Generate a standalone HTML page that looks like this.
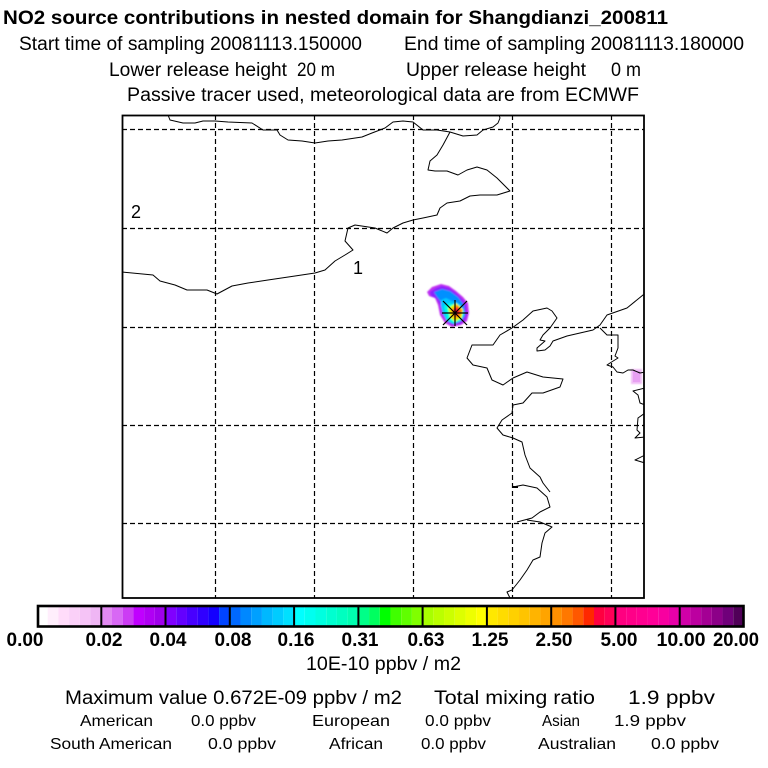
<!DOCTYPE html>
<html>
<head>
<meta charset="utf-8">
<style>
html,body{margin:0;padding:0;background:#fff;}
svg{display:block;}
text{font-family:"Liberation Sans",Arial,sans-serif;fill:#000;}
</style>
</head>
<body>
<svg width="768" height="768" viewBox="0 0 768 768" xmlns="http://www.w3.org/2000/svg">
<rect x="0" y="0" width="768" height="768" fill="#fff"/>

<!-- Header -->
<text x="3" y="24" font-size="19" font-weight="bold" textLength="665" lengthAdjust="spacingAndGlyphs">NO2 source contributions in nested domain for Shangdianzi_200811</text>
<text x="19" y="50" font-size="19" textLength="343" lengthAdjust="spacingAndGlyphs">Start time of sampling 20081113.150000</text>
<text x="404" y="50" font-size="19" textLength="340" lengthAdjust="spacingAndGlyphs">End time of sampling 20081113.180000</text>
<text x="109" y="76" font-size="19" textLength="178" lengthAdjust="spacingAndGlyphs">Lower release height</text>
<text x="297" y="76" font-size="19" textLength="38" lengthAdjust="spacingAndGlyphs">20 m</text>
<text x="406" y="76" font-size="19" textLength="180" lengthAdjust="spacingAndGlyphs">Upper release height</text>
<text x="611" y="76" font-size="19" textLength="30" lengthAdjust="spacingAndGlyphs">0 m</text>
<text x="127" y="101" font-size="19" textLength="512" lengthAdjust="spacingAndGlyphs">Passive tracer used, meteorological data are from ECMWF</text>

<defs>
<clipPath id="mapclip"><rect x="122" y="115" width="522" height="483"/></clipPath>
<filter id="soft" x="-20%" y="-20%" width="140%" height="140%"><feGaussianBlur stdDeviation="0.8"/></filter>
</defs>

<!-- Map -->
<g clip-path="url(#mapclip)">
  <!-- plume -->
  <g filter="url(#soft)">
    <path d="M427,292 L432,287 L441,284 L449,286 L456,291 L463,297 L468,303 L469,313 L467,321 L461,325 L452,327 L445,323 L440,315 L438,305 L435,298 L429,296 Z" fill="#c030f0"/>
    <path d="M430,292 L436,288 L442,286 L449,288 L456,293 L462,299 L466,305 L467,314 L465,320 L460,324 L452,325 L447,322 L442,314 L440,305 L437,299 L431,296 Z" fill="#8a20ff"/>
    <path d="M434,292 L442,289 L450,291 L458,297 L464,305 L465,316 L460,322 L452,324 L446,320 L443,312 L441,302 L437,297 Z" fill="#0090ff"/>
    <path d="M441,300 L446,298 L452,301 L460,304 L465,312 L462,320 L454,324 L447,321 L443,314 L441,306 Z" fill="#00c8ff"/>
    <path d="M444,306 L449,303 L455,305 L462,308 L464,314 L460,321 L453,323 L447,319 Z" fill="#00ffe0"/>
    <path d="M448,308 L456,303 L463,309 L462,318 L455,322 L450,318 Z" fill="#ccff00"/>
    <path d="M450,310 L456,304 L463,310 L461,317 L455,320 L451,316 Z" fill="#ffd000"/>
    <path d="M452,310 L457,305 L462,311 L459,317 L454,317 Z" fill="#ff8000"/>
    <path d="M453,310 L457,307 L460,312 L456,316 Z" fill="#ff1030"/>
  </g>
  <!-- pink blob -->
  <rect x="631" y="369" width="11" height="15" fill="#f0bcf6" filter="url(#soft)"/>
  <rect x="633" y="371" width="7" height="11" fill="#e8a0f2"/>

  <!-- gridlines -->
  <g stroke="#000" stroke-width="1.2" stroke-dasharray="5,3" fill="none">
    <line x1="215.5" y1="115" x2="215.5" y2="598"/>
    <line x1="314.5" y1="115" x2="314.5" y2="598"/>
    <line x1="413.5" y1="115" x2="413.5" y2="598"/>
    <line x1="512.5" y1="115" x2="512.5" y2="598"/>
    <line x1="611.5" y1="115" x2="611.5" y2="598"/>
    <line x1="122" y1="129.5" x2="644" y2="129.5"/>
    <line x1="122" y1="228.5" x2="644" y2="228.5"/>
    <line x1="122" y1="327.5" x2="644" y2="327.5"/>
    <line x1="122" y1="425.5" x2="644" y2="425.5"/>
    <line x1="122" y1="523.5" x2="644" y2="523.5"/>
  </g>

  <!-- coastlines -->
  <g stroke="#000" stroke-width="1" fill="none" stroke-linejoin="round">
    <polyline points="168,115 170,120 183,123 195,123 203,121 215,121 228,122 252,123 263,130 277,130 280,135 288,140 302,141 315,143 328,141 342,140 362,137 372,133 385,128 393,122 403,121 413,122 423,130 437,130 450,132 463,136 477,135 483,130 493,127 498,123 500,118 499,115"/>
    <polyline points="122,272 153,275 160,281 175,285 187,290 207,290 217,294 232,286 248,283 268,280 295,276 315,273 325,270 335,261 345,255 353,250 345,241 348,228 355,225 375,228 387,233 393,228 403,223 413,220 423,218 437,215 440,208 447,203 460,201 470,196 480,195 497,195 510,191 497,178 487,170 477,167 467,170 458,175 447,171 435,171 428,170 430,161 437,155 443,145 450,132"/>
    <polyline points="645,294 643,295 627,308 607,315 600,325 593,330 580,333 567,336 553,341 550,346 545,350 537,351 537,348 545,341 540,340 543,335 550,328 557,318 552,311 547,308 533,311 523,320 512,328 500,335 493,345 472,345 467,358 473,365 487,368 492,380 503,385 513,378 527,372 543,377 563,379 560,387 543,393 532,393 523,403 513,405 512,413 502,420 497,428 503,435 513,438 522,442 525,455 530,468 540,477 543,483 550,492"/>
    <polyline points="513,487 523,485 537,488 547,497 550,507 540,512 532,518 517,522"/>
    <polyline points="527,520 540,522 552,527 545,533 542,543 540,557 533,560 527,570 520,580 512,590 507,592 510,598"/>
    <polyline points="600,328 607,335 618,335 618,348 615,356 618,358 610,363 607,365 613,367 617,372 623,373 628,370 633,370 640,373 645,372"/>
    <polyline points="645,388 633,391 638,395 640,403 645,405"/>
    <polyline points="645,413 638,418 637,430 640,433 635,438 645,437"/>
    <polyline points="645,455 635,460 645,463"/>
  </g>
  <line x1="513" y1="487" x2="518" y2="487" stroke="#000" stroke-width="2"/>

  <!-- star marker -->
  <g stroke="#000" stroke-width="1.2">
    <line x1="443" y1="301" x2="467" y2="325"/>
    <line x1="467" y1="301" x2="443" y2="325"/>
    <line x1="455" y1="300" x2="455" y2="326"/>
    <line x1="442" y1="313" x2="468" y2="313"/>
  </g>
</g>

<!-- labels in map -->
<text x="131" y="218" font-size="18">2</text>
<text x="353" y="274" font-size="18">1</text>

<!-- frame -->
<rect x="122.5" y="115.5" width="521.5" height="482.5" fill="none" stroke="#000" stroke-width="1.8"/>

<!-- Colorbar -->
<g>
  <rect x="37" y="605" width="10.71" height="22" fill="#ffffff"/>
  <rect x="47.71" y="605" width="10.71" height="22" fill="#ffeefc"/>
  <rect x="58.42" y="605" width="10.71" height="22" fill="#ffdcfa"/>
  <rect x="69.13" y="605" width="10.71" height="22" fill="#fad0f8"/>
  <rect x="79.84" y="605" width="10.71" height="22" fill="#f5c3f6"/>
  <rect x="90.55" y="605" width="10.71" height="22" fill="#efb6f4"/>
  <rect x="101.27" y="605" width="10.71" height="22" fill="#e28af2"/>
  <rect x="111.98" y="605" width="10.71" height="22" fill="#d868f4"/>
  <rect x="122.69" y="605" width="10.71" height="22" fill="#cc3cf4"/>
  <rect x="133.4" y="605" width="10.71" height="22" fill="#c000ff"/>
  <rect x="144.11" y="605" width="10.71" height="22" fill="#b000f4"/>
  <rect x="154.82" y="605" width="10.71" height="22" fill="#a000ec"/>
  <rect x="165.54" y="605" width="10.71" height="22" fill="#8000ff"/>
  <rect x="176.25" y="605" width="10.71" height="22" fill="#6400ff"/>
  <rect x="186.96" y="605" width="10.71" height="22" fill="#4800ff"/>
  <rect x="197.67" y="605" width="10.71" height="22" fill="#3000ff"/>
  <rect x="208.38" y="605" width="10.71" height="22" fill="#1400ff"/>
  <rect x="219.09" y="605" width="10.71" height="22" fill="#0044ff"/>
  <rect x="229.81" y="605" width="10.71" height="22" fill="#0068ff"/>
  <rect x="240.52" y="605" width="10.71" height="22" fill="#0088ff"/>
  <rect x="251.23" y="605" width="10.71" height="22" fill="#00a0ff"/>
  <rect x="261.94" y="605" width="10.71" height="22" fill="#00b8ff"/>
  <rect x="272.65" y="605" width="10.71" height="22" fill="#00ccff"/>
  <rect x="283.36" y="605" width="10.71" height="22" fill="#00e0ff"/>
  <rect x="294.08" y="605" width="10.71" height="22" fill="#00ffff"/>
  <rect x="304.79" y="605" width="10.71" height="22" fill="#00fff0"/>
  <rect x="315.5" y="605" width="10.71" height="22" fill="#00ffe0"/>
  <rect x="326.21" y="605" width="10.71" height="22" fill="#00ffd0"/>
  <rect x="336.92" y="605" width="10.71" height="22" fill="#00ffc0"/>
  <rect x="347.63" y="605" width="10.71" height="22" fill="#00ffb0"/>
  <rect x="358.35" y="605" width="10.71" height="22" fill="#00ff88"/>
  <rect x="369.06" y="605" width="10.71" height="22" fill="#00ff60"/>
  <rect x="379.77" y="605" width="10.71" height="22" fill="#00ff00"/>
  <rect x="390.48" y="605" width="10.71" height="22" fill="#40ff00"/>
  <rect x="401.19" y="605" width="10.71" height="22" fill="#60ff00"/>
  <rect x="411.9" y="605" width="10.71" height="22" fill="#80ff00"/>
  <rect x="422.62" y="605" width="10.71" height="22" fill="#a8ff00"/>
  <rect x="433.33" y="605" width="10.71" height="22" fill="#bbff00"/>
  <rect x="444.04" y="605" width="10.71" height="22" fill="#ccff00"/>
  <rect x="454.75" y="605" width="10.71" height="22" fill="#ddff00"/>
  <rect x="465.46" y="605" width="10.71" height="22" fill="#eeff00"/>
  <rect x="476.17" y="605" width="10.71" height="22" fill="#ffff00"/>
  <rect x="486.89" y="605" width="10.71" height="22" fill="#ffe800"/>
  <rect x="497.6" y="605" width="10.71" height="22" fill="#ffdc00"/>
  <rect x="508.31" y="605" width="10.71" height="22" fill="#ffd000"/>
  <rect x="519.02" y="605" width="10.71" height="22" fill="#ffc400"/>
  <rect x="529.73" y="605" width="10.71" height="22" fill="#ffb400"/>
  <rect x="540.44" y="605" width="10.71" height="22" fill="#ffa400"/>
  <rect x="551.16" y="605" width="10.71" height="22" fill="#ff9000"/>
  <rect x="561.87" y="605" width="10.71" height="22" fill="#ff7800"/>
  <rect x="572.58" y="605" width="10.71" height="22" fill="#ff5800"/>
  <rect x="583.29" y="605" width="10.71" height="22" fill="#ff2800"/>
  <rect x="594" y="605" width="10.71" height="22" fill="#ff0040"/>
  <rect x="604.71" y="605" width="10.71" height="22" fill="#ff0058"/>
  <rect x="615.43" y="605" width="10.71" height="22" fill="#ff0080"/>
  <rect x="626.14" y="605" width="10.71" height="22" fill="#ff0088"/>
  <rect x="636.85" y="605" width="10.71" height="22" fill="#ff0090"/>
  <rect x="647.56" y="605" width="10.71" height="22" fill="#ff0098"/>
  <rect x="658.27" y="605" width="10.71" height="22" fill="#f800a0"/>
  <rect x="668.98" y="605" width="10.71" height="22" fill="#e800a8"/>
  <rect x="679.7" y="605" width="10.71" height="22" fill="#d000a8"/>
  <rect x="690.41" y="605" width="10.71" height="22" fill="#bc00a0"/>
  <rect x="701.12" y="605" width="10.71" height="22" fill="#a40094"/>
  <rect x="711.83" y="605" width="10.71" height="22" fill="#8c0088"/>
  <rect x="722.54" y="605" width="10.71" height="22" fill="#70007a"/>
  <rect x="733.25" y="605" width="10.75" height="22" fill="#500058"/>
  <g stroke="#000" stroke-width="2">
    <line x1="101.3" y1="605" x2="101.3" y2="627"/>
    <line x1="165.5" y1="605" x2="165.5" y2="627"/>
    <line x1="229.8" y1="605" x2="229.8" y2="627"/>
    <line x1="294.1" y1="605" x2="294.1" y2="627"/>
    <line x1="358.4" y1="605" x2="358.4" y2="627"/>
    <line x1="422.6" y1="605" x2="422.6" y2="627"/>
    <line x1="486.9" y1="605" x2="486.9" y2="627"/>
    <line x1="551.2" y1="605" x2="551.2" y2="627"/>
    <line x1="615.4" y1="605" x2="615.4" y2="627"/>
    <line x1="679.7" y1="605" x2="679.7" y2="627"/>
  </g>
  <rect x="38" y="606" width="705.5" height="20.5" fill="none" stroke="#000" stroke-width="2.6"/>
</g>

<!-- Colorbar labels -->
<g font-size="19" font-weight="bold" text-anchor="middle">
  <text x="25" y="646" textLength="37" lengthAdjust="spacingAndGlyphs">0.00</text>
  <text x="104" y="646" textLength="37" lengthAdjust="spacingAndGlyphs">0.02</text>
  <text x="168" y="646" textLength="37" lengthAdjust="spacingAndGlyphs">0.04</text>
  <text x="233" y="646" textLength="37" lengthAdjust="spacingAndGlyphs">0.08</text>
  <text x="296" y="646" textLength="37" lengthAdjust="spacingAndGlyphs">0.16</text>
  <text x="360" y="646" textLength="37" lengthAdjust="spacingAndGlyphs">0.31</text>
  <text x="426" y="646" textLength="37" lengthAdjust="spacingAndGlyphs">0.63</text>
  <text x="490" y="646" textLength="37" lengthAdjust="spacingAndGlyphs">1.25</text>
  <text x="554" y="646" textLength="37" lengthAdjust="spacingAndGlyphs">2.50</text>
  <text x="619" y="646" textLength="37" lengthAdjust="spacingAndGlyphs">5.00</text>
  <text x="681" y="646" textLength="49" lengthAdjust="spacingAndGlyphs">10.00</text>
  <text x="736" y="646" textLength="46" lengthAdjust="spacingAndGlyphs">20.00</text>
</g>

<text x="306" y="670" font-size="19" textLength="155" lengthAdjust="spacingAndGlyphs">10E-10 ppbv / m2</text>

<!-- Bottom info -->
<text x="65" y="704" font-size="19" textLength="337" lengthAdjust="spacingAndGlyphs">Maximum value  0.672E-09 ppbv / m2</text>
<text x="434" y="704" font-size="19" textLength="161" lengthAdjust="spacingAndGlyphs">Total mixing ratio</text>
<text x="628" y="704" font-size="19" textLength="87" lengthAdjust="spacingAndGlyphs">1.9 ppbv</text>

<g font-size="16">
  <text x="80" y="726" textLength="73" lengthAdjust="spacingAndGlyphs">American</text>
  <text x="191" y="726" textLength="65" lengthAdjust="spacingAndGlyphs">0.0 ppbv</text>
  <text x="312" y="726" textLength="78" lengthAdjust="spacingAndGlyphs">European</text>
  <text x="425" y="726" textLength="66" lengthAdjust="spacingAndGlyphs">0.0 ppbv</text>
  <text x="542" y="726" textLength="38" lengthAdjust="spacingAndGlyphs">Asian</text>
  <text x="614" y="726" textLength="72" lengthAdjust="spacingAndGlyphs">1.9 ppbv</text>

  <text x="50" y="749" textLength="122" lengthAdjust="spacingAndGlyphs">South American</text>
  <text x="208" y="749" textLength="68" lengthAdjust="spacingAndGlyphs">0.0 ppbv</text>
  <text x="329" y="749" textLength="54" lengthAdjust="spacingAndGlyphs">African</text>
  <text x="421" y="749" textLength="65" lengthAdjust="spacingAndGlyphs">0.0 ppbv</text>
  <text x="538" y="749" textLength="78" lengthAdjust="spacingAndGlyphs">Australian</text>
  <text x="651" y="749" textLength="68" lengthAdjust="spacingAndGlyphs">0.0 ppbv</text>
</g>
</svg>
</body>
</html>
